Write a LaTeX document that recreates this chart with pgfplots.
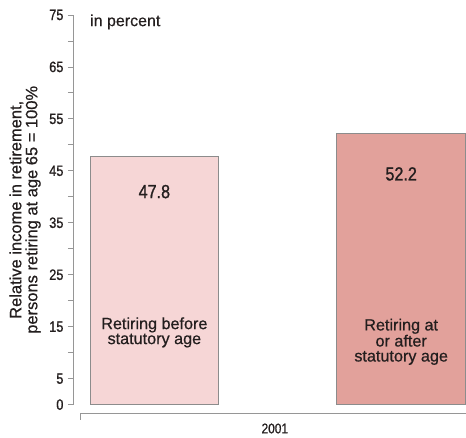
\documentclass[border=0pt]{standalone}
\usepackage{pgfplots}
\pgfplotsset{compat=1.18}
\usepackage{fontspec}
\setmainfont{Liberation Sans}[FakeBold=0.3]
\newfontfamily\cond[FakeStretch=0.85]{Liberation Sans}
\newfontfamily\condb[FakeStretch=0.85,FakeBold=1.0]{Liberation Sans}
\newfontfamily\txtf[FakeBold=0.6]{Liberation Sans}
\definecolor{barA}{RGB}{246,214,214}
\definecolor{barB}{RGB}{226,161,155}
\definecolor{axgray}{RGB}{150,150,150}
\definecolor{txt}{RGB}{35,30,30}
\begin{document}
\begin{tikzpicture}
\begin{axis}[
  width=393pt, height=390pt, scale only axis,
  xmin=-0.33, xmax=1.261, ymin=0, ymax=75,
  axis x line=none, axis y line*=left,
  axis line style={axgray, line width=0.8pt, -},
  ytick={0,5,...,75},
  yticklabels={0,5,,15,,25,,35,,45,,55,,65,,75},
  tick align=outside, major tick length=5pt,
  tick style={axgray, line width=0.8pt},
  /pgf/number format/assume math mode=true,
  yticklabel style={font=\condb\fontsize{15}{15}\selectfont, text=txt, xshift=-1pt},
  clip=false,
]
\path (axis cs:-0.6255,-6.346) rectangle (axis cs:1.261,77.88);
\addplot[ybar, bar width=0.522, bar shift=0pt, fill=barA, draw=black!45, line width=0.8pt] coordinates {(0,47.8)};
\addplot[ybar, bar width=0.522, bar shift=0pt, fill=barB, draw=black!45, line width=0.8pt] coordinates {(1,52.2)};
\node[text=txt, font=\condb\fontsize{19}{19}\selectfont] at (axis cs:0,41.0) {47.8};
\node[text=txt, font=\condb\fontsize{19}{19}\selectfont] at (axis cs:1,44.4) {52.2};
\node[text=txt, font=\txtf\fontsize{16.2}{15}\selectfont, align=center] at (axis cs:0,13.9) {Retiring before\\statutory age};
\node[text=txt, font=\txtf\fontsize{16.2}{15}\selectfont, align=center] at (axis cs:1,12.1) {Retiring at\\or after\\statutory age};
\node[text=txt, font=\txtf\fontsize{16}{16}\selectfont, anchor=west, inner sep=0pt] at (axis cs:-0.261,73.65) {in percent};
\node[text=txt, font=\txtf\fontsize{16.5}{16}\selectfont, align=center, rotate=90] at (axis cs:-0.524,37.5) {Relative income in retirement,\\persons retiring at age 65 = 100\%};
\draw[axgray, line width=0.8pt] (axis cs:-0.3016,-2.88) -- (axis cs:-0.3016,-1.73) -- (axis cs:1.261,-1.73);
\node[text=txt, font=\condb\fontsize{14}{14}\selectfont] at (axis cs:0.488,-4.6) {2001};
\end{axis}
\end{tikzpicture}
\end{document}
